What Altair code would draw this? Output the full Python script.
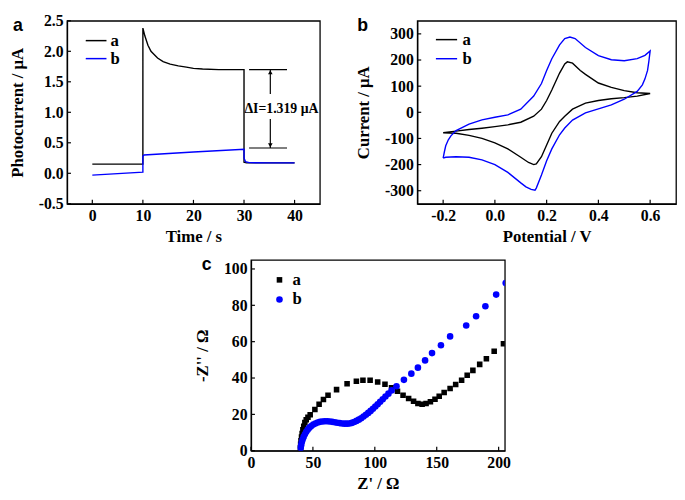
import altair as alt
import pandas as pd

SERIF = "Liberation Serif"
SANS = "Liberation Sans"
BLACK = "#000000"
BLUE = "#0000ff"
FIX = "replace(datum.label, '\u2212', '-')"

# ---------------- Panel a: photocurrent ----------------
A_T = [0, 10, 10, 10.4, 11, 11.6, 12.9, 14, 15.4, 17, 18.6, 20, 21.8, 25, 30, 30, 30.5, 35, 40]
A_I = [0.15, 0.15, 2.38, 2.25, 2.10, 2.00, 1.89, 1.83, 1.79, 1.76, 1.74, 1.72, 1.71, 1.70, 1.70, 0.18, 0.17, 0.17, 0.17]
B_T = [0, 10, 10, 10.2, 20, 30, 30, 30.3, 31, 35, 40]
B_I = [-0.03, 0.02, 0.28, 0.30, 0.35, 0.395, 0.25, 0.19, 0.175, 0.17, 0.17]
ANN_Y = [1.70, 0.415]
ANN_X0, ANN_X1 = 31.0, 38.5
ARROW_X = 35.2
ARROW_Y0 = [1.30, 0.415]
ARROW_Y1 = [1.70, 0.89]
HEAD_Y = [1.655, 0.46]
HEAD_SHAPE = ["triangle-up", "triangle-down"]
DELTA_TEXT = "\u0394I=1.319 \u03bcA"
DELTA_POS = (37.4, 1.06)
LEG_LABELS = ["a", "b"]
LEG_COLORS = [BLACK, BLUE]
LEG_A_Y = [2.175, 1.88]
LEG_A_X = (-1.3, 2.8, 3.6)
XT_A = [0, 10, 20, 30, 40]
YT_A = [-0.5, 0.0, 0.5, 1.0, 1.5, 2.0, 2.5]

# ---------------- Panel b: cyclic voltammetry ----------------
CA_E = [-0.2, -0.15, -0.1, -0.05, 0.0, 0.05, 0.1, 0.15, 0.18, 0.2, 0.22, 0.25, 0.27, 0.28, 0.3, 0.33, 0.35, 0.4, 0.45, 0.5, 0.55, 0.6,
        0.55, 0.5, 0.45, 0.4, 0.35, 0.3, 0.27, 0.25, 0.22, 0.2, 0.18, 0.16, 0.15, 0.13, 0.1, 0.05, 0.0, -0.05, -0.1, -0.15, -0.2]
CA_I = [-78, -72, -66, -61, -55, -48, -38, -15, 12, 45, 85, 150, 185, 193, 188, 160, 145, 112, 95, 83, 75, 72,
        62, 56, 52, 45, 35, 12, -15, -35, -80, -125, -170, -197, -200, -192, -172, -140, -117, -100, -88, -80, -78]
CB_E = [-0.2, -0.195, -0.19, -0.18, -0.17, -0.15, -0.1, -0.05, 0.0, 0.05, 0.1, 0.15, 0.18, 0.2, 0.22, 0.25, 0.27, 0.29, 0.31, 0.35,
        0.4, 0.45, 0.5, 0.55, 0.58, 0.6,
        0.595, 0.59, 0.58, 0.57, 0.55, 0.5, 0.45, 0.4, 0.35, 0.3, 0.27, 0.25, 0.22, 0.2, 0.18, 0.16, 0.155, 0.14, 0.12, 0.1,
        0.05, 0.0, -0.05, -0.1, -0.15, -0.19, -0.2]
CB_I = [-175, -150, -128, -105, -90, -70, -45, -29, -19, -10, 12, 62, 110, 160, 205, 258, 282, 288, 282, 248,
        217, 201, 197, 205, 218, 235,
        195, 160, 128, 105, 80, 50, 28, 13, -2, -30, -60, -86, -140, -185, -240, -290, -298, -295, -285, -270,
        -230, -200, -182, -172, -170, -172, -175]
LEG_B_Y = [278, 205]
LEG_B_X = (-0.228, -0.146, -0.125)
XT_B = [-0.2, 0.0, 0.2, 0.4, 0.6]
YT_B = [-300, -200, -100, 0, 100, 200, 300]

# ---------------- Panel c: impedance (Nyquist) ----------------
ZA_RE = [39.9, 40.1, 40.4, 40.8, 41.3, 41.9, 42.6, 43.5, 44.6, 46.0, 47.8, 51.6, 55.0, 58.5, 62.2, 69.1, 77.6, 85.1, 90.4,
         96.2, 102.3, 108.2, 113.5, 118.3, 122.8, 127.3, 131.3, 134.8, 138.2, 141.4, 144.9, 148.6, 152.0, 156.0,
         160.8, 165.3, 170.1, 174.6, 179.2, 184.7, 190.1, 196.4, 203.9]
ZA_IM = [1.5, 3.5, 5.5, 7.5, 9.5, 11.5, 13.5, 15.5, 17.0, 18.4, 19.8, 22.7, 25.6, 28.2, 30.5, 33.6, 36.9, 38.2, 38.8,
         38.8, 37.8, 36.6, 34.6, 32.7, 30.5, 28.7, 27.2, 26.0, 25.6, 26.0, 26.9, 28.3, 30.0, 32.0,
         34.2, 36.4, 38.8, 41.5, 44.2, 47.5, 50.6, 54.7, 58.9]
ZB_RE = [40.2, 40.5, 41.0, 41.7, 42.5, 43.5, 44.6, 45.8, 47.2, 48.7, 50.3, 52.0, 53.8, 55.7, 57.6, 59.6, 61.6, 63.6,
         65.6, 67.6, 69.6, 71.6, 73.6, 75.6, 77.6, 79.5, 81.4, 83.3, 85.2, 87.1, 89.0, 90.9, 92.8, 94.7, 96.6,
         98.5, 100.4, 102.3, 104.3, 106.4, 108.6, 111.0, 113.6, 117.5, 123.5, 129.5, 134.8, 140.6, 146.2, 153.4,
         160.8, 173.8, 181.8, 189.3, 198.0, 205.7]
ZB_IM = [1.5, 3.0, 4.6, 6.2, 7.6, 9.0, 10.4, 11.6, 12.7, 13.6, 14.4, 15.0, 15.5, 15.9, 16.1, 16.2, 16.2, 16.1,
         15.9, 15.7, 15.4, 15.2, 15.0, 14.9, 14.9, 15.0, 15.3, 15.8, 16.4, 17.1, 17.9, 18.8, 19.8, 20.8, 21.9,
         23.1, 24.3, 25.6, 26.9, 28.3, 29.8, 31.4, 33.2, 35.5, 39.0, 42.4, 45.7, 49.7, 53.7, 58.0,
         62.9, 68.9, 74.0, 79.5, 85.9, 92.3]
LEG_C_Y = [94, 83.2]
LEG_C_X = (23, 33.5)
XT_C = [0, 50, 100, 150, 200]
YT_C = [0, 20, 40, 60, 80, 100]

WA, HA = 257, 186
WB, HB = 263, 186
WC, HC = 258, 194
SPACER_W = 128


def ex(scale, axis, f="x"):
    return alt.X(f"{f}:Q", scale=scale, axis=axis)


def ey(scale, axis, f="y"):
    return alt.Y(f"{f}:Q", scale=scale, axis=axis)


def tick_layers(xs, ys, xax, yax, xt, yt, h):
    tx = alt.Chart(pd.DataFrame({"x": xt})).mark_rule(color=BLACK, strokeWidth=1.2).encode(
        x=ex(xs, xax), y=alt.value(h), y2=alt.value(h - 4))
    ty = alt.Chart(pd.DataFrame({"y": yt})).mark_rule(color=BLACK, strokeWidth=1.2).encode(
        y=ey(ys, yax), x=alt.value(0), x2=alt.value(4))
    return [tx, ty]


def letter(ch, dx):
    return alt.Chart(pd.DataFrame({"l": [ch]})).mark_text(
        font=SANS, fontWeight="bold", fontSize=18, align="left", baseline="alphabetic", color=BLACK
    ).encode(text="l:N", x=alt.value(dx), y=alt.value(10))


def line_df(xs_, ys_):
    return pd.DataFrame({"x": xs_, "y": ys_, "o": list(range(len(xs_)))})


def legend_lines(xs, ys, xax, yax, x0, x1, xt, yvals):
    df = pd.DataFrame({"x": [x0] * 2, "x2": [x1] * 2, "xt": [xt] * 2, "y": yvals,
                       "c": LEG_COLORS, "l": LEG_LABELS})
    r = alt.Chart(df).mark_rule(strokeWidth=1.5).encode(
        x=ex(xs, xax), x2="x2:Q", y=ey(ys, yax), color=alt.Color("c:N", scale=None))
    t = alt.Chart(df).mark_text(font=SERIF, fontWeight="bold", fontSize=17, align="left",
                                baseline="middle", color=BLACK).encode(
        x=ex(xs, xax, "xt"), y=ey(ys, yax), text="l:N")
    return [r, t]


# ---------- panel a ----------
XA = alt.Scale(domain=[-5, 45], nice=False, zero=False)
YA = alt.Scale(domain=[-0.5, 2.5], nice=False, zero=False)
XAX_A = alt.Axis(values=XT_A, title="Time / s", format="d")
YAX_A = alt.Axis(values=YT_A, title="Photocurrent / \u03bcA", format=".1f", labelExpr=FIX)

la = alt.Chart(line_df(A_T, A_I)).mark_line(color=BLACK, strokeWidth=1.4).encode(
    x=ex(XA, XAX_A), y=ey(YA, YAX_A), order="o:Q")
lb = alt.Chart(line_df(B_T, B_I)).mark_line(color=BLUE, strokeWidth=1.4).encode(
    x=ex(XA, XAX_A), y=ey(YA, YAX_A), order="o:Q")
ann_h = alt.Chart(pd.DataFrame({"x": [ANN_X0] * 2, "x2": [ANN_X1] * 2, "y": ANN_Y})).mark_rule(
    color=BLACK, strokeWidth=1.2).encode(x=ex(XA, XAX_A), x2="x2:Q", y=ey(YA, YAX_A))
ann_v = alt.Chart(pd.DataFrame({"x": [ARROW_X] * 2, "y": ARROW_Y0, "y2": ARROW_Y1})).mark_rule(
    color=BLACK, strokeWidth=1.2).encode(x=ex(XA, XAX_A), y=ey(YA, YAX_A), y2="y2:Q")
heads = alt.Chart(pd.DataFrame({"x": [ARROW_X] * 2, "y": HEAD_Y, "s": HEAD_SHAPE})).mark_point(
    filled=True, color=BLACK, size=22, opacity=1).encode(
    x=ex(XA, XAX_A), y=ey(YA, YAX_A), shape=alt.Shape("s:N", scale=None))
dtext = alt.Chart(pd.DataFrame({"x": [DELTA_POS[0]], "y": [DELTA_POS[1]], "l": [DELTA_TEXT]})).mark_text(
    font=SERIF, fontWeight="bold", fontSize=14, align="center", baseline="middle", color=BLACK).encode(
    x=ex(XA, XAX_A), y=ey(YA, YAX_A), text="l:N")
panel_a = alt.layer(
    la, lb, ann_h, ann_v, heads, dtext,
    *legend_lines(XA, YA, XAX_A, YAX_A, LEG_A_X[0], LEG_A_X[1], LEG_A_X[2], LEG_A_Y),
    *tick_layers(XA, YA, XAX_A, YAX_A, XT_A, YT_A, HA),
    letter("a", -55),
).properties(width=WA, height=HA)

# ---------- panel b ----------
XB = alt.Scale(domain=[-0.3, 0.7], nice=False, zero=False)
YB = alt.Scale(domain=[-350, 350], nice=False, zero=False)
XAX_B = alt.Axis(values=XT_B, title="Potential / V", format=".1f", labelExpr=FIX)
YAX_B = alt.Axis(values=YT_B, title="Current / \u03bcA", format="d", labelExpr=FIX)

cva = alt.Chart(line_df(CA_E, CA_I)).mark_line(color=BLACK, strokeWidth=1.4).encode(
    x=ex(XB, XAX_B), y=ey(YB, YAX_B), order="o:Q")
cvb = alt.Chart(line_df(CB_E, CB_I)).mark_line(color=BLUE, strokeWidth=1.4).encode(
    x=ex(XB, XAX_B), y=ey(YB, YAX_B), order="o:Q")
panel_b = alt.layer(
    cva, cvb,
    *legend_lines(XB, YB, XAX_B, YAX_B, LEG_B_X[0], LEG_B_X[1], LEG_B_X[2], LEG_B_Y),
    *tick_layers(XB, YB, XAX_B, YAX_B, XT_B, YT_B, HB),
    letter("b", -61),
).properties(width=WB, height=HB)

# ---------- panel c ----------
XC = alt.Scale(domain=[0, 205], nice=False, zero=False)
YC = alt.Scale(domain=[0, 105], nice=False, zero=False)
XAX_C = alt.Axis(values=XT_C, title="Z' / \u03a9", format="d")
YAX_C = alt.Axis(values=YT_C, title="-Z'' / \u03a9", format="d")

sq = alt.Chart(pd.DataFrame({"x": ZA_RE, "y": ZA_IM})).mark_square(
    color=BLACK, size=32, opacity=1, clip=True).encode(x=ex(XC, XAX_C), y=ey(YC, YAX_C))
ci = alt.Chart(pd.DataFrame({"x": ZB_RE, "y": ZB_IM})).mark_circle(
    color=BLUE, size=45, opacity=1, clip=True).encode(x=ex(XC, XAX_C), y=ey(YC, YAX_C))
leg_c_df = pd.DataFrame({"x": [LEG_C_X[0]] * 2, "xt": [LEG_C_X[1]] * 2, "y": LEG_C_Y, "l": LEG_LABELS})
leg_sq = alt.Chart(leg_c_df.iloc[[0]]).mark_square(color=BLACK, size=32, opacity=1).encode(
    x=ex(XC, XAX_C), y=ey(YC, YAX_C))
leg_ci = alt.Chart(leg_c_df.iloc[[1]]).mark_circle(color=BLUE, size=45, opacity=1).encode(
    x=ex(XC, XAX_C), y=ey(YC, YAX_C))
leg_ct = alt.Chart(leg_c_df).mark_text(font=SERIF, fontWeight="bold", fontSize=17, align="left",
                                       baseline="middle", color=BLACK).encode(
    x=ex(XC, XAX_C, "xt"), y=ey(YC, YAX_C), text="l:N")
panel_c = alt.layer(
    sq, ci, leg_sq, leg_ci, leg_ct,
    *tick_layers(XC, YC, XAX_C, YAX_C, XT_C, YT_C, HC),
    letter("c", -50),
).properties(width=WC, height=HC)

spacer = alt.Chart(pd.DataFrame({"v": [0]})).mark_point(opacity=0).encode(
    x=alt.value(0), y=alt.value(0)
).properties(width=SPACER_W, height=10, view=alt.ViewBackground(strokeOpacity=0))

top = alt.hconcat(panel_a, panel_b, spacing=34)
bottom = alt.hconcat(spacer, panel_c, spacing=0)

chart = alt.vconcat(top, bottom, spacing=10).properties(padding=0).configure_view(
    stroke=BLACK, strokeWidth=1.3
).configure_axis(
    labelFont=SERIF, labelFontSize=16, labelFontWeight="bold", labelColor=BLACK,
    titleFont=SERIF, titleFontSize=17, titleFontWeight="bold", titleColor=BLACK,
    ticks=False, domainColor=BLACK, domainWidth=1.3, grid=False, labelPadding=4,
    labelFlush=False, labelOverlap=False,
).configure_axisX(titlePadding=5).configure_axisY(titlePadding=12)

chart.save("out.html", embed_options={"renderer": "svg", "actions": False})
